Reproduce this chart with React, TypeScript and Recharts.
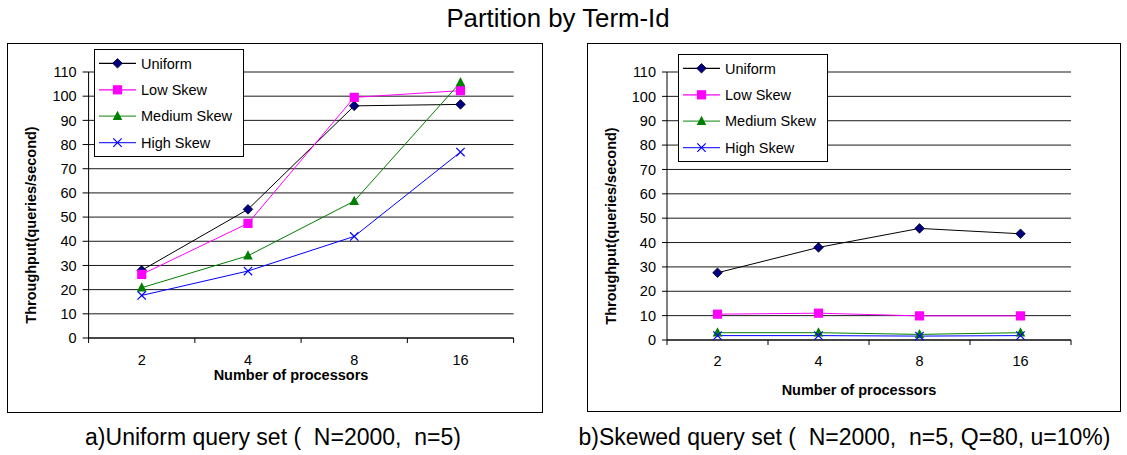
import React from 'react';
import { LineChart, Line, XAxis, YAxis, CartesianGrid, Legend, ReferenceLine } from 'recharts';

// ---------- data ----------
const categories = ['2', '4', '8', '16'];
const yTicks = [0, 10, 20, 30, 40, 50, 60, 70, 80, 90, 100, 110];

const uniformA = [28, 53.2, 96, 96.6];
const lowSkewA = [26.3, 47.4, 99.5, 102.3];
const mediumSkewA = [20.8, 34, 56.6, 105.7];
const highSkewA = [17.6, 27.7, 42, 76.9];

const uniformB = [27.6, 38, 45.8, 43.6];
const lowSkewB = [10.6, 11, 9.9, 9.9];
const mediumSkewB = [3, 3, 2.3, 3];
const highSkewB = [1.8, 1.8, 1.6, 1.8];

const mainTitle = 'Partition by Term-Id';
const captionA = 'a)Uniform query set (  N=2000,  n=5)';
const captionB = 'b)Skewed query set (  N=2000,  n=5, Q=80, u=10%)';
const yTitle = 'Throughput(queries/second)';
const xTitle = 'Number of processors';

const FONT = '"Liberation Sans", Arial, Helvetica, sans-serif';

type MarkerKind = 'diamond' | 'square' | 'triangle' | 'cross';
const seriesDefs: { key: string; name: string; color: string; legendColor: string; marker: MarkerKind }[] = [
  { key: 'uniform', name: 'Uniform', color: '#000000', legendColor: '#000000', marker: 'diamond' },
  { key: 'low', name: 'Low Skew', color: '#FF00FF', legendColor: '#FF00FF', marker: 'square' },
  { key: 'medium', name: 'Medium Skew', color: '#008000', legendColor: '#3C9C3C', marker: 'triangle' },
  { key: 'high', name: 'High Skew', color: '#0000FF', legendColor: '#3030FF', marker: 'cross' },
];

const buildData = (u: number[], l: number[], m: number[], h: number[]) =>
  categories.map((c, i) => ({ cat: c, uniform: u[i], low: l[i], medium: m[i], high: h[i] }));

const dataA = buildData(uniformA, lowSkewA, mediumSkewA, highSkewA);
const dataB = buildData(uniformB, lowSkewB, mediumSkewB, highSkewB);

// ---------- markers ----------
function Marker({ kind, cx, cy }: { kind: MarkerKind; cx: number; cy: number }) {
  switch (kind) {
    case 'diamond':
      return (
        <path
          d={`M${cx},${cy - 4.8}L${cx + 4.8},${cy}L${cx},${cy + 4.8}L${cx - 4.8},${cy}Z`}
          fill="#000080"
          stroke="#000020"
          strokeWidth={0.8}
        />
      );
    case 'square':
      return <rect x={cx - 4.6} y={cy - 4.6} width={9.2} height={9.2} fill="#FF00FF" />;
    case 'triangle':
      return <path d={`M${cx},${cy - 5.5}L${cx + 4.8},${cy + 3.8}L${cx - 4.8},${cy + 3.8}Z`} fill="#008000" />;
    case 'cross':
    default:
      return (
        <path
          d={`M${cx - 4.2},${cy - 4.2}L${cx + 4.2},${cy + 4.2}M${cx + 4.2},${cy - 4.2}L${cx - 4.2},${cy + 4.2}`}
          stroke="#0000FF"
          strokeWidth={1.2}
          fill="none"
        />
      );
  }
}

const makeDot = (kind: MarkerKind) => (p: any) => {
  if (p.cx == null || p.cy == null) return <g key={`e-${kind}-${p.index}`} />;
  return (
    <g key={`${kind}-${p.index}`}>
      <Marker kind={kind} cx={p.cx} cy={p.cy} />
    </g>
  );
};

// ---------- legend ----------
const LegendBox = () => {
  const rows = [14.3, 40.8, 67.2, 93.6];
  return (
    <svg width={150} height={108} style={{ display: 'block' }}>
      <rect x={0.5} y={0.5} width={149} height={107} fill="#fff" stroke="#000" strokeWidth={1} />
      {seriesDefs.map((s, i) => (
        <g key={s.key}>
          <line x1={5} x2={42} y1={rows[i]} y2={rows[i]} stroke={s.legendColor} strokeWidth={1.2} />
          <Marker kind={s.marker} cx={23.5} cy={rows[i]} />
          <text x={47} y={rows[i] + 5.2} fontSize={14.5} fontFamily={FONT} fill="#000">
            {s.name}
          </text>
        </g>
      ))}
    </svg>
  );
};

// ---------- x tick ----------
const XTick = (props: any) => {
  const { x, y, payload, index, bw, labelDy } = props;
  const n = categories.length;
  return (
    <g>
      <line x1={x - bw / 2} x2={x - bw / 2} y1={y} y2={y + 5} stroke="#000" strokeWidth={1} />
      {index === n - 1 && <line x1={x + bw / 2} x2={x + bw / 2} y1={y} y2={y + 5} stroke="#000" strokeWidth={1} />}
      <text x={x} y={y + labelDy} textAnchor="middle" fontSize={14.5} fontFamily={FONT} fill="#000">
        {payload.value}
      </text>
    </g>
  );
};

type PanelGeo = {
  left: number;
  width: number;
  plotLeft: number;
  plotRight: number;
  axisY: number;
  legendX: number;
  legendY: number;
  yTitleX: number;
  yTitleY: number;
  xTitleX: number;
  xTitleY: number;
  tickLabelDy: number;
  tickSize: number;
  tickMargin: number;
};

const PLOT_TOP = 72;
const X_AXIS_H = 50;
const H = 455;

function Panel({ data, geo }: { data: any[]; geo: PanelGeo }) {
  const plotW = geo.plotRight - geo.plotLeft;
  const bw = plotW / categories.length;
  const yAxisW = 60;
  const margin = {
    top: PLOT_TOP,
    left: geo.plotLeft - yAxisW,
    right: geo.width - geo.plotRight,
    bottom: H - geo.axisY - X_AXIS_H,
  };
  return (
    <div style={{ position: 'absolute', left: geo.left, top: 0, width: geo.width, height: H }}>
      <LineChart width={geo.width} height={H} data={data} margin={margin}>
        <CartesianGrid vertical={false} stroke="#1a1a1a" strokeWidth={1} />
        <ReferenceLine y={110} stroke="#8a8a8a" strokeWidth={1} />
        <XAxis
          dataKey="cat"
          height={X_AXIS_H}
          padding={{ left: bw / 2, right: bw / 2 }}
          interval={0}
          tickLine={false}
          tickSize={0}
          tickMargin={0}
          axisLine={{ stroke: '#000', strokeWidth: 1 }}
          tick={(p: any) => <XTick {...p} bw={bw} labelDy={geo.tickLabelDy} />}
          label={{
            content: () => (
              <text x={geo.xTitleX} y={geo.xTitleY} textAnchor="middle" fontSize={14.5} fontWeight="bold" fontFamily={FONT} fill="#000">
                {xTitle}
              </text>
            ),
          }}
        />
        <YAxis
          domain={[0, 110]}
          ticks={yTicks}
          interval={0}
          width={yAxisW}
          tickSize={geo.tickSize}
          tickMargin={geo.tickMargin}
          axisLine={{ stroke: '#000', strokeWidth: 1 }}
          tickLine={{ stroke: '#000', strokeWidth: 1 }}
          tick={{ fill: '#000', fontSize: 14.5, fontFamily: FONT }}
          label={{
            content: () => (
              <text
                x={geo.yTitleX}
                y={geo.yTitleY}
                transform={`rotate(-90, ${geo.yTitleX}, ${geo.yTitleY})`}
                textAnchor="middle"
                dominantBaseline="central"
                fontSize={14.5}
                fontWeight="bold"
                fontFamily={FONT}
                fill="#000"
              >
                {yTitle}
              </text>
            ),
          }}
        />
        <YAxis
          yAxisId="border"
          orientation="right"
          width={0}
          domain={[0, 110]}
          tick={false}
          tickLine={false}
          axisLine={{ stroke: '#8a8a8a', strokeWidth: 1 }}
        />
        {seriesDefs.map((s) => (
          <Line
            key={s.key}
            type="linear"
            dataKey={s.key}
            name={s.name}
            stroke={s.color}
            strokeWidth={1}
            dot={makeDot(s.marker)}
            activeDot={false}
            isAnimationActive={false}
          />
        ))}
        <Legend
          verticalAlign="middle"
          align="center"
          layout="horizontal"
          wrapperStyle={{ left: geo.legendX, top: geo.legendY, width: 150, height: 108 }}
          content={() => <LegendBox />}
        />
      </LineChart>
    </div>
  );
}

const geoA: PanelGeo = {
  left: 0,
  width: 560,
  plotLeft: 88.6,
  plotRight: 513.6,
  axisY: 338,
  legendX: 93.6,
  legendY: 49,
  yTitleX: 31,
  yTitleY: 225,
  xTitleX: 291,
  xTitleY: 380,
  tickLabelDy: 27,
  tickSize: 6,
  tickMargin: 6,
};

const geoB: PanelGeo = {
  left: 560,
  width: 567,
  plotLeft: 107,
  plotRight: 511,
  axisY: 340,
  legendX: 117.5,
  legendY: 54,
  yTitleX: 50.6,
  yTitleY: 226,
  xTitleX: 299,
  xTitleY: 395,
  tickLabelDy: 26,
  tickSize: 5,
  tickMargin: 6,
};

export default function App() {
  return (
    <div style={{ position: 'absolute', left: 0, top: 0, width: 1127, height: 455, background: '#fff', overflow: 'hidden' }}>
      <svg width={1127} height={455} style={{ position: 'absolute', left: 0, top: 0 }}>
        <text x={558} y={27} textAnchor="middle" fontSize={25.8} fontFamily={FONT} fill="#000">
          {mainTitle}
        </text>
        <text x={273} y={445} textAnchor="middle" fontSize={23} fontFamily={FONT} fill="#000" style={{ whiteSpace: 'pre' }}>
          {captionA}
        </text>
        <text x={844.5} y={445} textAnchor="middle" fontSize={23} fontFamily={FONT} fill="#000" style={{ whiteSpace: 'pre' }}>
          {captionB}
        </text>
      </svg>
      <div style={{ position: 'absolute', left: 7, top: 43, width: 536, height: 370, border: '1px solid #000', boxSizing: 'border-box' }} />
      <div style={{ position: 'absolute', left: 587, top: 43, width: 534, height: 369, border: '1px solid #000', boxSizing: 'border-box' }} />
      <Panel data={dataA} geo={geoA} />
      <Panel data={dataB} geo={geoB} />
    </div>
  );
}
